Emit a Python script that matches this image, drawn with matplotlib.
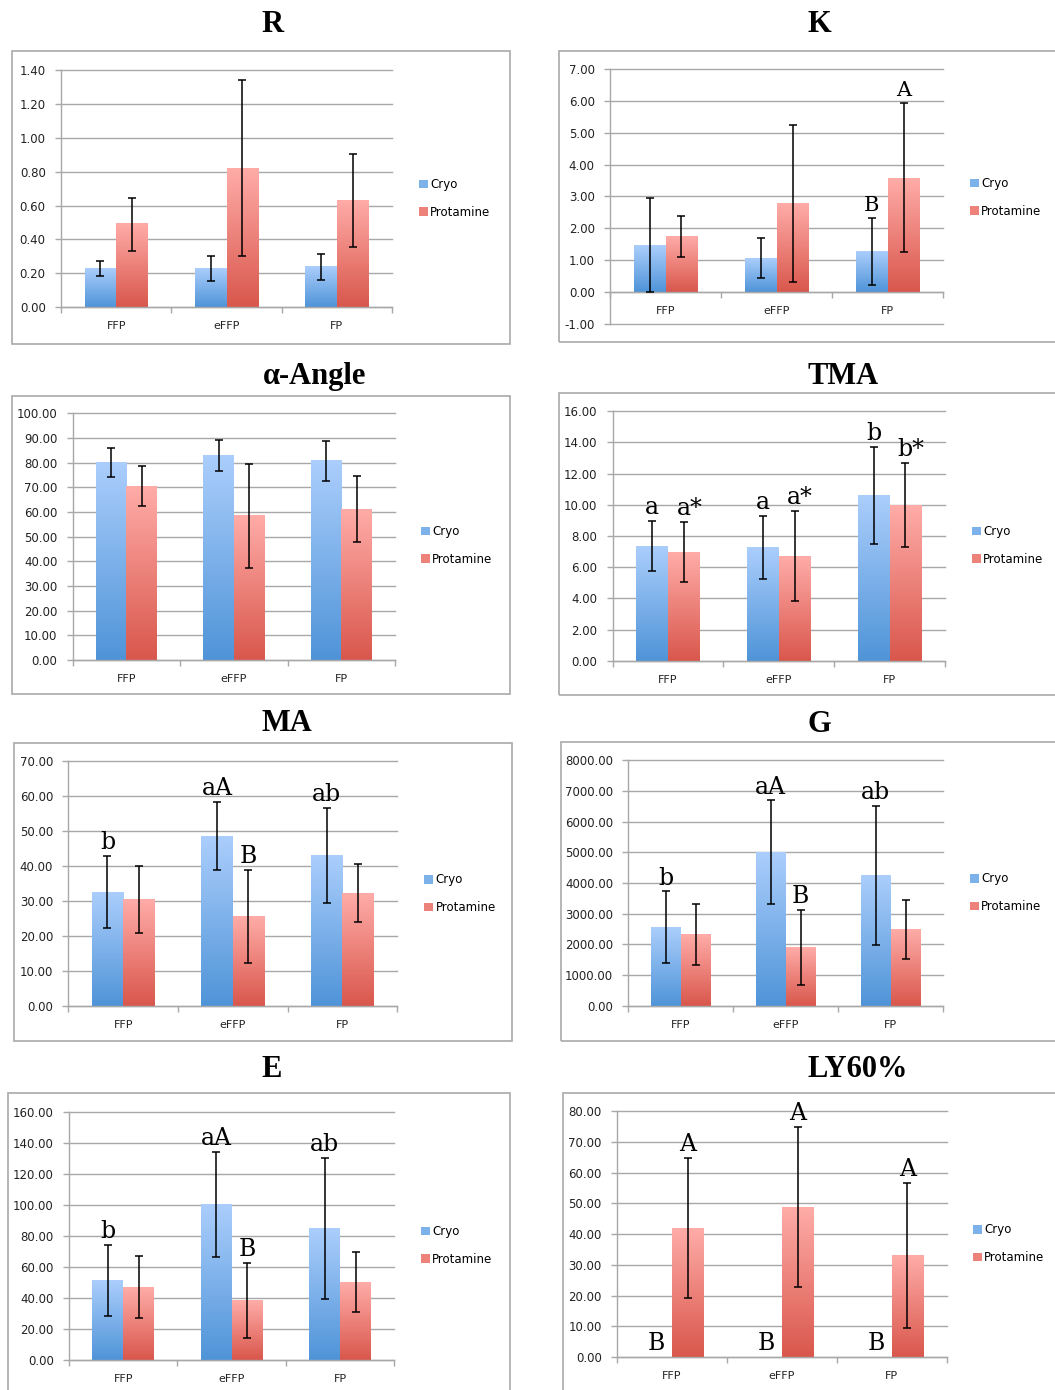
import numpy as np
import matplotlib.pyplot as plt
from matplotlib.patches import Rectangle, Patch
from matplotlib.colors import LinearSegmentedColormap, to_rgb

W, H = 1055, 1390

groups = ['FFP', 'eFFP', 'FP']

# ---- data (mean, error) ----
r_cryo = [0.23, 0.23, 0.24]
r_cryo_err = [0.045, 0.072, 0.076]
r_prot = [0.49, 0.82, 0.63]
r_prot_err = [0.155, 0.52, 0.277]

k_cryo = [1.46, 1.05, 1.27]
k_cryo_err = [1.48, 0.63, 1.04]
k_prot = [1.74, 2.77, 3.58]
k_prot_err = [0.63, 2.47, 2.34]
k_cryo_lab = ['', '', 'B']
k_prot_lab = ['', '', 'A']

ang_cryo = [80.1, 83.0, 80.7]
ang_cryo_err = [5.9, 6.2, 8.0]
ang_prot = [70.5, 58.4, 61.1]
ang_prot_err = [8.0, 21.0, 13.3]

tma_cryo = [7.34, 7.27, 10.61]
tma_cryo_err = [1.6, 2.0, 3.13]
tma_prot = [6.97, 6.70, 9.97]
tma_prot_err = [1.93, 2.9, 2.7]
tma_cryo_lab = ['a', 'a', 'b']
tma_prot_lab = ['a*', 'a*', 'b*']

ma_cryo = [32.5, 48.5, 43.0]
ma_cryo_err = [10.3, 9.7, 13.7]
ma_prot = [30.5, 25.6, 32.2]
ma_prot_err = [9.5, 13.2, 8.3]
ma_cryo_lab = ['b', 'aA', 'ab']
ma_prot_lab = ['', 'B', '']

g_cryo = [2554, 5000, 4250]
g_cryo_err = [1170, 1690, 2270]
g_prot = [2326, 1902, 2489]
g_prot_err = [1005, 1217, 960]
g_cryo_lab = ['b', 'aA', 'ab']
g_prot_lab = ['', 'B', '']

e_cryo = [51.2, 100.3, 84.8]
e_cryo_err = [23.2, 33.8, 45.4]
e_prot = [46.7, 38.5, 50.0]
e_prot_err = [20.0, 24.2, 19.3]
e_cryo_lab = ['b', 'aA', 'ab']
e_prot_lab = ['', 'B', '']

ly_cryo = [0.0, 0.0, 0.0]
ly_cryo_err = [0.0, 0.0, 0.0]
ly_prot = [41.9, 48.8, 33.1]
ly_prot_err = [22.8, 26.0, 23.6]
ly_cryo_lab = ['B', 'B', 'B']
ly_prot_lab = ['A', 'A', 'A']

BLUE = ('#4f94d8', '#abcefc')
RED = ('#d9574c', '#ffaca8')
GRID = '#a8a8a8'

fig = plt.figure(figsize=(W / 100, H / 100), dpi=100)


def px_rect(x0, y0, x1, y1):
    return [x0 / W, 1 - y1 / H, (x1 - x0) / W, (y1 - y0) / H]


def gradient_bars(ax, bars, colors):
    # each bar gets its own dark-bottom / light-top fill like the Excel original
    cmap = LinearSegmentedColormap.from_list('g', list(colors))
    grad = np.linspace(0, 1, 256).reshape(-1, 1)
    for b in bars:
        h = b.get_height()
        if h == 0:
            continue
        x0 = b.get_x()
        ax.imshow(grad, cmap=cmap, origin='lower', aspect='auto',
                  extent=[x0, x0 + b.get_width(), 0, h], zorder=2)


def panel(title, cryo, cryo_err, prot, prot_err, ylim, step, axes_px, box_px,
          title_px, legend_px, cryo_lab=None, prot_lab=None, lab_size=16.5,
          draw_cryo_err=True):
    # outer frame
    bx0, by0, bx1, by1 = box_px
    fig.add_artist(Rectangle((bx0 / W, 1 - by1 / H), (bx1 - bx0) / W, (by1 - by0) / H,
                             transform=fig.transFigure, fill=False,
                             ec='#a9a9a9', lw=1.2))
    fig.text(title_px[0] / W, 1 - title_px[1] / H, title, ha='center',
             va='baseline', fontsize=22, fontweight='bold',
             family='Liberation Serif')

    ax = fig.add_axes(px_rect(*axes_px))
    x = np.arange(len(groups))
    w = 1 / 3.5
    b1 = ax.bar(x - w / 2, cryo, w, color='none', zorder=2)
    b2 = ax.bar(x + w / 2, prot, w, color='none', zorder=2)
    gradient_bars(ax, b1, BLUE)
    gradient_bars(ax, b2, RED)

    if draw_cryo_err:
        ax.errorbar(x - w / 2, cryo, yerr=cryo_err, fmt='none', ecolor='black',
                    elinewidth=1.1, capsize=3, capthick=1.1, zorder=4)
    ax.errorbar(x + w / 2, prot, yerr=prot_err, fmt='none', ecolor='black',
                elinewidth=1.1, capsize=3, capthick=1.1, zorder=4)

    for labs, xs, vals, errs in ((cryo_lab, x - w / 2, cryo, cryo_err),
                                 (prot_lab, x + w / 2, prot, prot_err)):
        if not labs:
            continue
        for lab, xi, v, e in zip(labs, xs, vals, errs):
            if not lab:
                continue
            dx = 4 if lab.endswith('*') else 0
            ax.annotate(lab, xy=(xi, v + e), xytext=(dx, 5),
                        textcoords='offset points', ha='center', va='baseline',
                        fontsize=lab_size, family='DejaVu Serif', zorder=5)

    ax.set_xlim(-0.5, len(groups) - 0.5)
    ax.set_ylim(*ylim)
    ax.set_yticks(np.arange(ylim[0], ylim[1] + step / 2, step))
    ax.yaxis.set_major_formatter(plt.FormatStrFormatter('%.2f'))
    ax.yaxis.grid(True, color=GRID, lw=1.0)
    for gl in ax.get_ygridlines():
        gl.set_clip_on(False)
    ax.set_axisbelow(True)

    ax.set_xticks(np.arange(-0.5, len(groups), 1.0))
    ax.set_xticklabels([])
    ax.set_xticks(x, minor=True)
    ax.set_xticklabels(groups, minor=True)
    ax.tick_params(axis='x', which='major', length=4, color=GRID, width=1.0)
    ax.tick_params(axis='x', which='minor', length=0, pad=10, labelsize=8,
                   labelcolor='#222222')
    ax.tick_params(axis='y', length=4, color=GRID, width=1.0, pad=7,
                   labelsize=8.5, labelcolor='#222222')

    for s in ('top', 'right'):
        ax.spines[s].set_visible(False)
    for s in ('left', 'bottom'):
        ax.spines[s].set_color(GRID)
        ax.spines[s].set_linewidth(1.0)
    if ylim[0] < 0:
        ax.spines['bottom'].set_position(('data', 0))
    ax.set_facecolor('none')

    handles = [Patch(fc=np.mean([to_rgb(c) for c in BLUE], axis=0)),
               Patch(fc=np.mean([to_rgb(c) for c in RED], axis=0))]
    ax.legend(handles, ['Cryo', 'Protamine'], loc='center left',
              bbox_to_anchor=(legend_px[0] / W, 1 - legend_px[1] / H),
              bbox_transform=fig.transFigure, frameon=False, fontsize=8.5,
              handlelength=0.75, handleheight=0.75, handletextpad=0.2,
              labelspacing=1.25, borderpad=0, borderaxespad=0)
    return ax


panel('R', r_cryo, r_cryo_err, r_prot, r_prot_err, (0, 1.4), 0.2,
      (61, 70, 392, 307.3), (12, 51, 510, 343.5), (272, 32), (419, 198.5))

panel('K', k_cryo, k_cryo_err, k_prot, k_prot_err, (-1, 7), 1.0,
      (610, 69, 943.3, 323.7), (559, 51, 1070, 341.7), (819, 32), (970, 197.5),
      k_cryo_lab, k_prot_lab, lab_size=15)

panel('\u03b1-Angle', ang_cryo, ang_cryo_err, ang_prot, ang_prot_err, (0, 100), 10,
      (72.7, 413.3, 395, 660), (12, 395.5, 510, 694), (315, 384), (421, 545.5))

panel('TMA', tma_cryo, tma_cryo_err, tma_prot, tma_prot_err, (0, 16), 2,
      (612.7, 411.3, 945, 660.7), (558.5, 393.3, 1070, 695), (843, 384.3),
      (972, 545.5), tma_cryo_lab, tma_prot_lab, lab_size=17)

panel('MA', ma_cryo, ma_cryo_err, ma_prot, ma_prot_err, (0, 70), 10,
      (68.3, 761, 397.3, 1006), (14.3, 742.7, 512.3, 1041.3), (287, 731),
      (424.3, 893.7), ma_cryo_lab, ma_prot_lab, lab_size=17)

panel('G', g_cryo, g_cryo_err, g_prot, g_prot_err, (0, 8000), 1000,
      (628.3, 760.3, 943.3, 1005.7), (560.7, 742.3, 1070, 1041), (819, 731.7),
      (970, 892.8), g_cryo_lab, g_prot_lab, lab_size=17)

panel('E', e_cryo, e_cryo_err, e_prot, e_prot_err, (0, 160), 20,
      (69, 1112, 394.3, 1359.7), (8.3, 1093.3, 510, 1400), (272, 1077),
      (421, 1245.5), e_cryo_lab, e_prot_lab, lab_size=17)

panel('LY60%', ly_cryo, ly_cryo_err, ly_prot, ly_prot_err, (0, 80), 10,
      (617, 1111.3, 946.7, 1357), (563, 1093.3, 1070, 1400), (858, 1077),
      (973, 1243.7), ly_cryo_lab, ly_prot_lab, lab_size=17,
      draw_cryo_err=False)

fig.savefig('out.png', dpi=100)
